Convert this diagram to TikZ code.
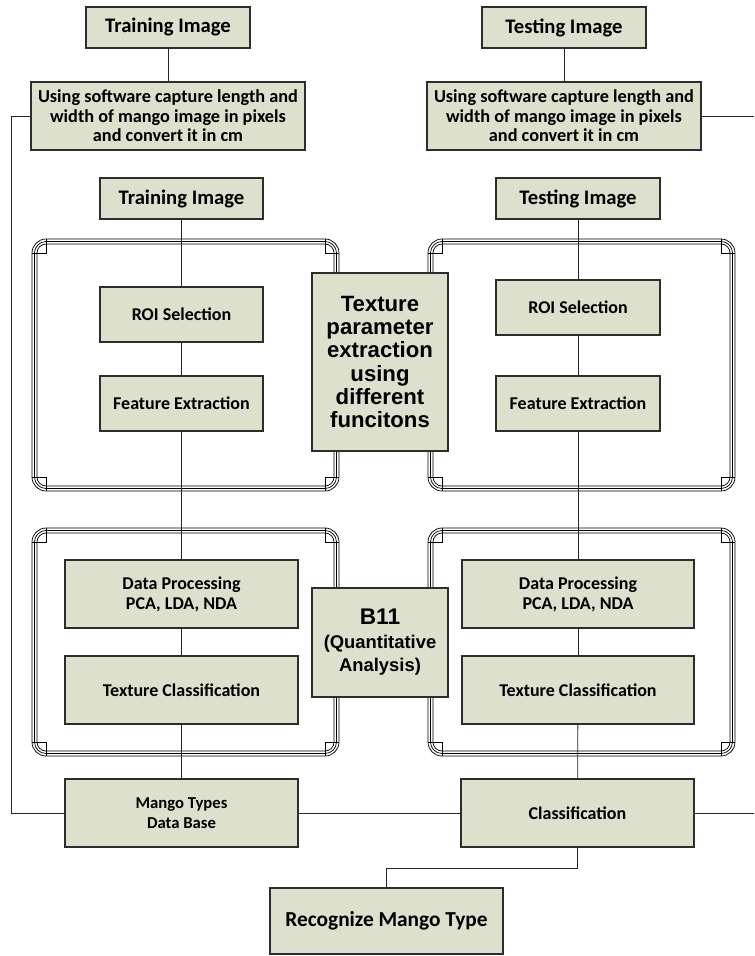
\documentclass[tikz,border=0pt]{standalone}
\usepackage{fontspec}
\newfontfamily\calf{Carlito}
\newfontfamily\arf{Liberation Sans}
\definecolor{boxfill}{RGB}{221,224,205}
\definecolor{edge}{RGB}{45,45,45}
\tikzset{
  box/.style={draw=edge, fill=boxfill, line width=0.9pt, inner sep=0pt, align=center},
  cbox/.style={box, font=\calf\bfseries},
  abox/.style={box, font=\arf\bfseries},
  conn/.style={draw=black!85, line width=0.6pt},
  frm/.style={draw=black, line width=0.55pt},
}
\newcommand\tframe[4]{%
  \foreach \d/\r in {0/10.5,2.5/8.625,5/6.75}{%
    \draw[frm, rounded corners=\r pt] (#1+\d,#2+\d) rectangle (#3-\d,#4-\d);
  }%
  \draw[frm] (#1+14,#2) -- (#1+14,#2+14) -- (#1,#2+14);
  \draw[frm] (#3-14,#2) -- (#3-14,#2+14) -- (#3,#2+14);
  \draw[frm] (#1+14,#4) -- (#1+14,#4-14) -- (#1,#4-14);
  \draw[frm] (#3-14,#4) -- (#3-14,#4-14) -- (#3,#4-14);
}
\begin{document}
\begin{tikzpicture}[x=0.75pt,y=-0.75pt]
\useasboundingbox (0,0) rectangle (754,956);
% frames
\tframe{32}{239}{339}{491}
\tframe{428}{239}{735}{491}
\tframe{32}{528}{339}{756}
\tframe{428}{528}{735}{756}

% top boxes
\node[cbox, minimum width=164*0.75pt, minimum height=41*0.75pt, font=\calf\bfseries\fontsize{15.5}{17}\selectfont] (t1) at (168,27.5) {Training Image};
\node[cbox, minimum width=164*0.75pt, minimum height=41*0.75pt, font=\calf\bfseries\fontsize{15.5}{17}\selectfont] (t2) at (564,27.5) {Testing Image};
\node[cbox, minimum width=274*0.75pt, minimum height=68*0.75pt, font=\calf\bfseries\fontsize{13.7}{14.6}\selectfont] (u1) at (168,116) {Using software capture length and\\width of mango image in pixels\\and convert it in cm};
\node[cbox, minimum width=274*0.75pt, minimum height=68*0.75pt, font=\calf\bfseries\fontsize{13.7}{14.6}\selectfont] (u2) at (564,116) {Using software capture length and\\width of mango image in pixels\\and convert it in cm};

\node[cbox, minimum width=163*0.75pt, minimum height=41*0.75pt, font=\calf\bfseries\fontsize{15.5}{17}\selectfont] (tl) at (181.5,198.5) {Training Image};
\node[cbox, minimum width=164*0.75pt, minimum height=41*0.75pt, font=\calf\bfseries\fontsize{15.5}{17}\selectfont] (tr) at (578,198.5) {Testing Image};

\node[cbox, minimum width=163*0.75pt, minimum height=55*0.75pt, font=\calf\bfseries\fontsize{13.5}{15}\selectfont] (roil) at (181.5,314.5) {ROI Selection};
\node[cbox, minimum width=163*0.75pt, minimum height=55*0.75pt, font=\calf\bfseries\fontsize{13.5}{15}\selectfont] (fel) at (181.5,403.5) {Feature Extraction};
\node[cbox, minimum width=164*0.75pt, minimum height=55*0.75pt, font=\calf\bfseries\fontsize{13.5}{15}\selectfont] (roir) at (578,307.5) {ROI Selection};
\node[cbox, minimum width=164*0.75pt, minimum height=55*0.75pt, font=\calf\bfseries\fontsize{13.5}{15}\selectfont] (fer) at (578,403.5) {Feature Extraction};

\node[cbox, minimum width=233*0.75pt, minimum height=68*0.75pt, font=\calf\bfseries\fontsize{13.5}{15}\selectfont] (dpl) at (181.5,594) {Data Processing\\PCA, LDA, NDA};
\node[cbox, minimum width=233*0.75pt, minimum height=68*0.75pt, font=\calf\bfseries\fontsize{13.5}{15}\selectfont] (tcl) at (181.5,690) {Texture Classification};
\node[cbox, minimum width=232*0.75pt, minimum height=68*0.75pt, font=\calf\bfseries\fontsize{13.5}{15}\selectfont] (dpr) at (578,594) {Data Processing\\PCA, LDA, NDA};
\node[cbox, minimum width=232*0.75pt, minimum height=68*0.75pt, font=\calf\bfseries\fontsize{13.5}{15}\selectfont] (tcr) at (578,690) {Texture Classification};

\node[cbox, minimum width=233*0.75pt, minimum height=68*0.75pt, font=\calf\bfseries\fontsize{12.5}{15}\selectfont] (mdb) at (181.5,813) {Mango Types\\Data Base};
\node[cbox, minimum width=233*0.75pt, minimum height=68*0.75pt, font=\calf\bfseries\fontsize{13.5}{15}\selectfont] (cls) at (577.5,813) {Classification};
\node[cbox, minimum width=233*0.75pt, minimum height=66*0.75pt, font=\calf\bfseries\fontsize{16}{18}\selectfont] (rec) at (386.5,921) {Recognize Mango Type};

% middle Arial boxes
\node[abox, minimum width=136*0.75pt, minimum height=178*0.75pt, font=\arf\bfseries\fontsize{16.6}{17.5}\selectfont] (tpe) at (380,362) {Texture\\parameter\\extraction\\using\\different\\funcitons};
\node[abox, minimum width=136*0.75pt, minimum height=109*0.75pt, font=\arf\bfseries\fontsize{13.8}{17.6}\selectfont] (b11) at (380,642.5) {{\fontsize{17}{17.6}\selectfont B11}\\(Quantitative\\Analysis)};

% connectors
\coordinate (fl1) at (11,116);
\coordinate (fl2) at (11,813);
\coordinate (er1) at (754,116);
\coordinate (er2) at (754,813);
\draw[conn] (t1) -- (u1);
\draw[conn] (t2) -- (u2);
\draw[conn] (tl) -- (roil);
\draw[conn] (roil) -- (fel);
\draw[conn] (fel) -- (dpl);
\draw[conn] (dpl) -- (tcl);
\draw[conn] (tcl) -- (mdb);
\draw[conn] (tr) -- (roir);
\draw[conn] (roir) -- (fer);
\draw[conn] (fer) -- (dpr);
\draw[conn] (dpr) -- (tcr);
\draw[conn] (tcr) -- (cls);
\draw[conn] (u1.west) -- (fl1) -- (fl2) -- (mdb.west);
\draw[conn] (mdb.east) -- (cls.west);
\draw[conn] (u2.east) -- (er1);
\draw[conn] (cls.east) -- (er2);
\draw[conn] (cls.south) -- ++(0,21) -| (rec.north);
\end{tikzpicture}
\end{document}
